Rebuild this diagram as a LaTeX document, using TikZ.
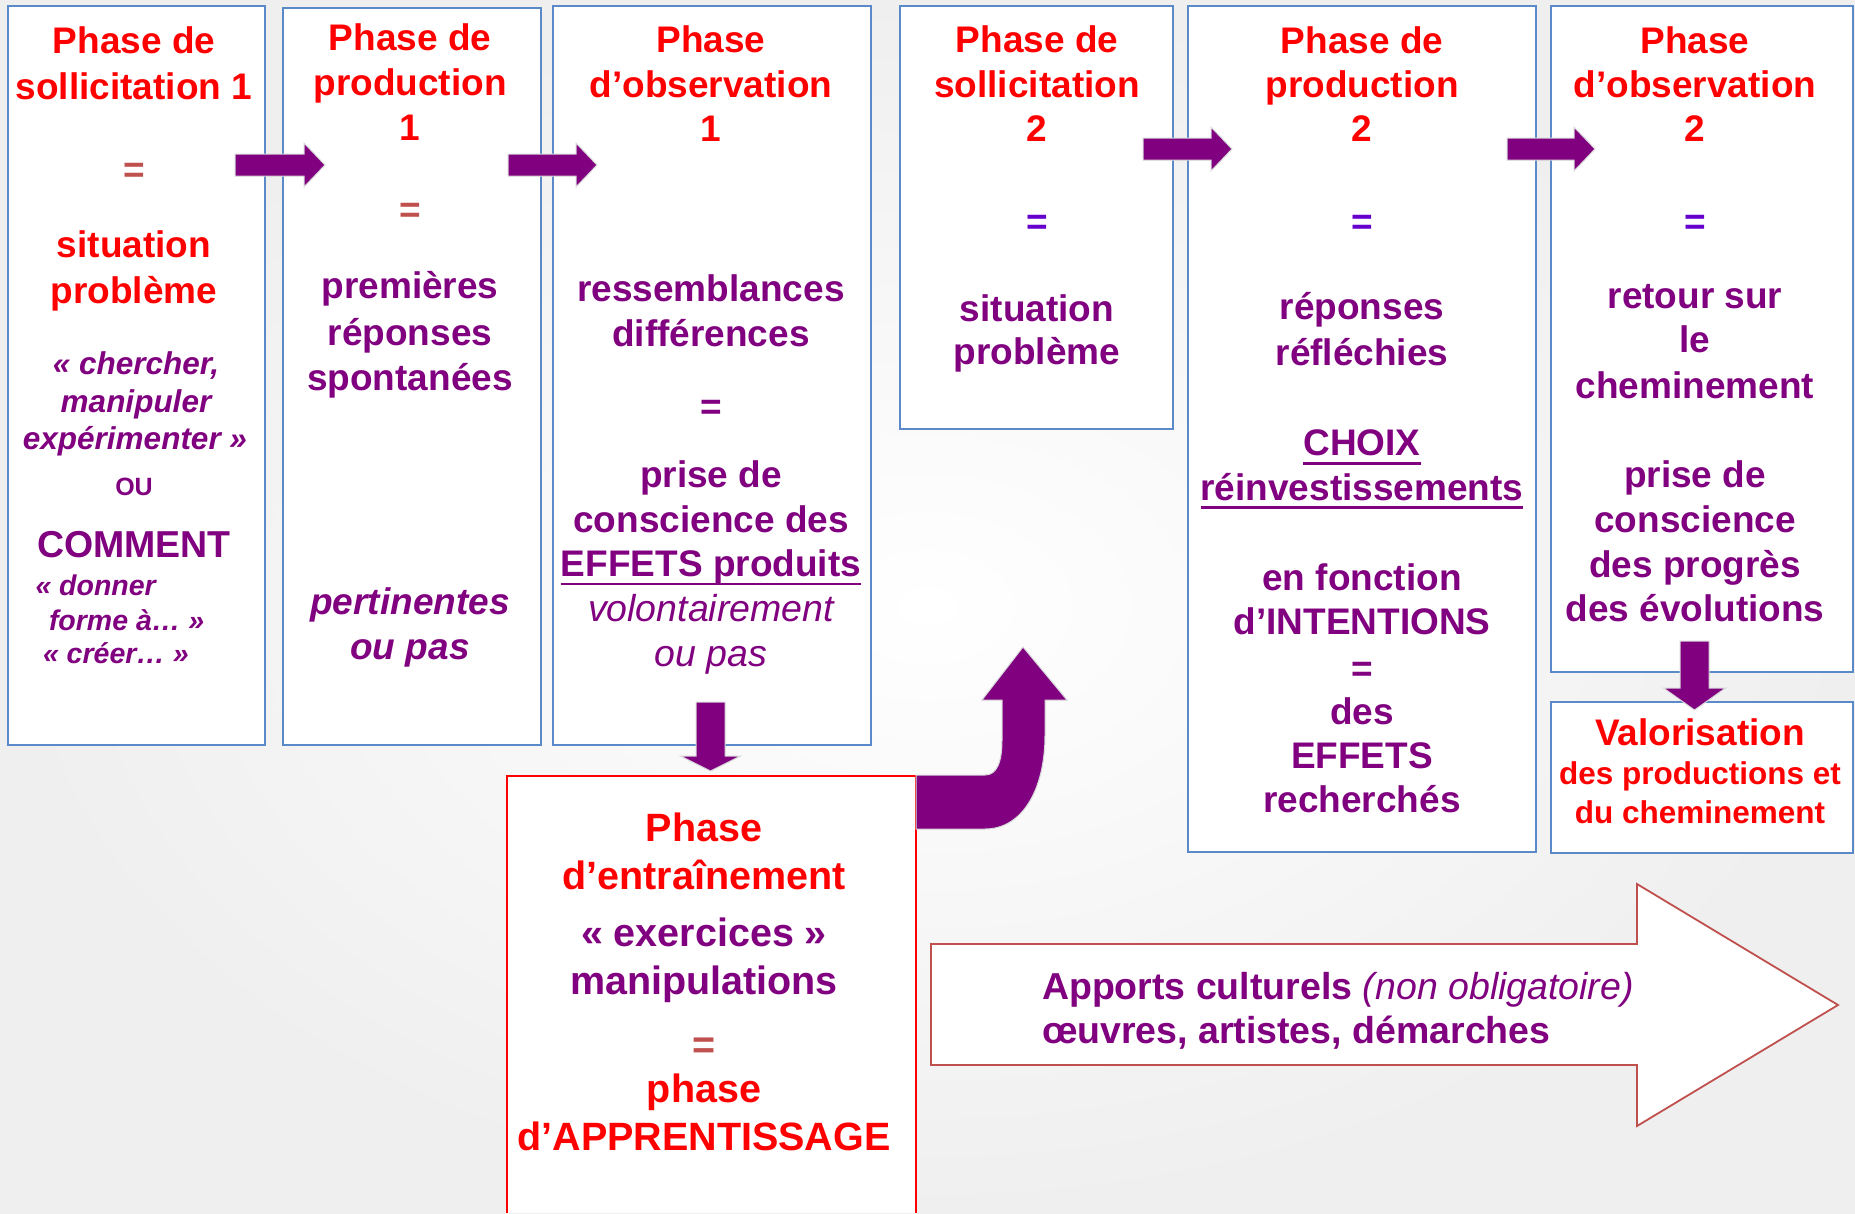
\documentclass[tikz,border=0pt]{standalone}
\usepackage{fontspec}
\setmainfont{Liberation Sans}
\definecolor{pred}{HTML}{FF0000}
\definecolor{ppurple}{HTML}{800080}
\definecolor{eqbrown}{HTML}{C0504D}
\definecolor{eqviolet}{HTML}{6600CC}
\definecolor{boxblue}{HTML}{5B8AC8}
\definecolor{bggray}{HTML}{EFEFEF}
\definecolor{apbord}{HTML}{C0504D}
\newcommand\fA{\fontsize{37}{44}\selectfont}
\newcommand\fL{\fontsize{39.5}{47}\selectfont}
\newcommand\hbarrow[4]{%
  \fill[arrowfill] (#1,#4-11) -- (#2,#4-11) -- (#2,#4-22) -- (#3,#4) -- (#2,#4+22) -- (#2,#4+11) -- (#1,#4+11) -- cycle;}
\newcommand\vbarrow[6]{% xl, xr, ytop, ybase, headhalf, ytip
  \fill[arrowfill] (#1,#3) -- (#2,#3) -- (#2,#4) -- ({(#1+#2)/2+#5},#4) -- ({(#1+#2)/2},#6) -- ({(#1+#2)/2-#5},#4) -- (#1,#4) -- cycle;}
\tikzset{
  box/.style={draw=boxblue, line width=1.6pt, fill=white, anchor=north west, inner sep=0pt, outer sep=0pt},
  ln/.style={anchor=base, inner sep=0pt, outer sep=0pt},
  rt/.style={ln, text=pred, font=\fA\bfseries},
  pt/.style={ln, text=ppurple, font=\fA\bfseries},
  eqb/.style={ln, text=eqbrown, font=\fA\bfseries},
  eqv/.style={ln, text=eqviolet, font=\fA\bfseries},
  pit/.style={ln, text=ppurple, font=\fontsize{31.5}{37}\selectfont\bfseries\itshape},
  pis/.style={ln, anchor=base west, text=ppurple, font=\fontsize{28.5}{33}\selectfont\bfseries\itshape},
  pou/.style={ln, text=ppurple, font=\fontsize{25}{30}\selectfont\bfseries},
  pbi/.style={ln, text=ppurple, font=\fA\bfseries\itshape},
  pri/.style={ln, text=ppurple, font=\fontsize{37.5}{44}\selectfont\itshape},
  rs/.style={ln, text=pred, font=\fontsize{31.5}{38}\selectfont\bfseries},
  rtL/.style={ln, text=pred, font=\fL\bfseries},
  ptL/.style={ln, text=ppurple, font=\fL\bfseries},
  eqbL/.style={ln, text=eqbrown, font=\fL\bfseries},
  ulin/.style={draw=ppurple, line width=2.4pt},
  arrowfill/.style={fill=ppurple, draw=black!15, line width=1pt},
}
\begin{document}
\begin{tikzpicture}[x=1pt,y=-1pt]
\useasboundingbox (0,0) rectangle (1855,1213);
\shade[inner color=white, outer color=bggray] (0,0) rectangle (1855,1213);

% boxes
\node[box, minimum width=257pt, minimum height=739pt] (box1) at (8,6) {};
\node[box, minimum width=258pt, minimum height=737pt] (box2) at (283,8) {};
\node[box, minimum width=318pt, minimum height=739pt] (box3) at (553,6) {};
\node[box, minimum width=273pt, minimum height=423pt] (box4) at (900,6) {};
\node[box, minimum width=348pt, minimum height=846pt] (box5) at (1188,6) {};
\node[box, minimum width=302pt, minimum height=666pt] (box6) at (1551,6) {};
\node[box, minimum width=302pt, minimum height=151pt] (box7) at (1551,702) {};
\node[fill=white, anchor=north west, inner sep=0pt, outer sep=0pt, minimum width=409pt, minimum height=437pt] (box8) at (507,776) {};
\draw[pred, line width=1.6pt] (box8.south west) -- (box8.north west) -- (box8.north east) -- (box8.south east);

% apports arrow
\draw[apbord, line width=1.8pt, fill=white] (931,944) -- (1637,944) -- (1637,884) -- (1838,1005) -- (1637,1126) -- (1637,1065) -- (931,1065) -- cycle;

% block arrows
\hbarrow{235}{304}{325}{165}
\hbarrow{508}{576}{597}{165}
\hbarrow{1143}{1211}{1232}{149}
\hbarrow{1507}{1574}{1595}{149}
\vbarrow{696}{725}{702}{756}{30}{771}
\vbarrow{1680}{1709}{641}{688}{31}{710}
\fill[arrowfill] (916,775) -- (985,775) .. controls (997,775) and (1002,762) .. (1002,740) -- (1002,700) -- (982,700) -- (1023,647) -- (1067,700) -- (1045,700) -- (1045,735) .. controls (1045,790) and (1022,829) .. (985,829) -- (916,829) -- cycle;

% box1
\node[rt] (a1) at (134,53) {Phase de};
\node[rt] (a2) at (134,99.5) {sollicitation 1};
\node[eqb] (a3) at (134,182) {=};
\node[rt] (a4) at (134,257) {situation};
\node[rt] (a5) at (134,303) {problème};
\node[pit] (a6) at (136,374) {« chercher,};
\node[pit] (a7) at (136,412) {manipuler};
\node[pit] (a8) at (135,449) {expérimenter »};
\node[pou] (a9) at (134,495) {OU};
\node[pt, font=\fontsize{37.5}{44}\selectfont\bfseries] (a10) at (134,557) {COMMENT};
\node[pis] (a11) at (35.5,595) {« donner};
\node[pis] (a12) at (49,630) {forme à… »};
\node[pis] (a13) at (43,663) {« créer… »};

% box2
\node[rt] (b1) at (410,50) {Phase de};
\node[rt] (b2) at (410,95) {production};
\node[rt] (b3) at (410,140) {1};
\node[eqb] (b4) at (410,222) {=};
\node[pt] (b5) at (410,298.5) {premières};
\node[pt] (b6) at (410,345.5) {réponses};
\node[pt] (b7) at (410,390) {spontanées};
\node[pbi] (b8) at (410,614) {pertinentes};
\node[pbi] (b9) at (410,659) {ou pas};

% box3
\node[rt] (c1) at (711,52) {Phase};
\node[rt] (c2) at (711,97) {d’observation};
\node[rt] (c3) at (711,141.5) {1};
\node[pt] (c4) at (711,301.5) {ressemblances};
\node[pt] (c5) at (711,346.5) {différences};
\node[pt] (c6) at (711,419) {=};
\node[pt] (c7) at (711,487) {prise de};
\node[pt] (c8) at (711,532) {conscience des};
\node[pt] (c9) at (711,576) {EFFETS produits};
\draw[ulin] ([yshift=-8pt]c9.base west) -- ([yshift=-8pt]c9.base east);
\node[pri] (c10) at (711,621) {volontairement};
\node[pri] (c11) at (711,666.5) {ou pas};

% box4
\node[rt] (d1) at (1037,52) {Phase de};
\node[rt] (d2) at (1037,97) {sollicitation};
\node[rt] (d3) at (1037,141.5) {2};
\node[eqv] (d4) at (1037,234) {=};
\node[pt] (d5) at (1037,321) {situation};
\node[pt] (d6) at (1037,364.5) {problème};

% box5
\node[rt] (e1) at (1362,53) {Phase de};
\node[rt] (e2) at (1362,97.5) {production};
\node[rt] (e3) at (1362,141.5) {2};
\node[eqv] (e4) at (1362,234) {=};
\node[pt] (e5) at (1362,319) {réponses};
\node[pt] (e6) at (1362,365) {réfléchies};
\node[pt] (e7) at (1362,455) {CHOIX};
\draw[ulin] ([yshift=-8.5pt]e7.base west) -- ([yshift=-8.5pt]e7.base east);
\node[pt] (e8) at (1362,500) {réinvestissements};
\draw[ulin] ([yshift=-7.5pt]e8.base west) -- ([yshift=-7.5pt]e8.base east);
\node[pt] (e9) at (1362,590) {en fonction};
\node[pt] (e10) at (1362,634) {d’INTENTIONS};
\node[pt] (e11) at (1362,681) {=};
\node[pt] (e12) at (1362,724) {des};
\node[pt] (e13) at (1362,768) {EFFETS};
\node[pt] (e14) at (1362,812) {recherchés};

% box6
\node[rt] (f1) at (1695,53) {Phase};
\node[rt] (f2) at (1695,97.5) {d’observation};
\node[rt] (f3) at (1695,141.5) {2};
\node[eqv] (f4) at (1695,234) {=};
\node[pt] (f5) at (1695,308) {retour sur};
\node[pt] (f6) at (1695,352) {le};
\node[pt] (f7) at (1695,398) {cheminement};
\node[pt] (f8) at (1695,487) {prise de};
\node[pt] (f9) at (1695,532) {conscience};
\node[pt] (f10) at (1695,577) {des progrès};
\node[pt] (f11) at (1695,621.5) {des évolutions};

% box7
\node[rt] (g1) at (1700,745) {Valorisation};
\node[rs] (g2) at (1700,784.5) {des productions et};
\node[rs] (g3) at (1700,823) {du cheminement};

% box8
\node[rtL] (h1) at (704,841) {Phase};
\node[rtL] (h2) at (704,889) {d’entraînement};
\node[ptL] (h3) at (704,946) {« exercices »};
\node[ptL] (h4) at (704,994) {manipulations};
\node[eqbL] (h5) at (704,1058) {=};
\node[rtL] (h6) at (704,1102) {phase};
\node[rtL] (h7) at (704,1150) {d’APPRENTISSAGE};

% apports text
\node[ln, anchor=base west, text=ppurple, font=\fontsize{37.5}{44}\selectfont] (k1) at (1042,999) {\bfseries Apports culturels \itshape\mdseries(non obligatoire)};
\node[ln, anchor=base west, text=ppurple, font=\fontsize{37.5}{44}\selectfont\bfseries] (k2) at (1042,1043) {œuvres, artistes, démarches};
\end{tikzpicture}
\end{document}
